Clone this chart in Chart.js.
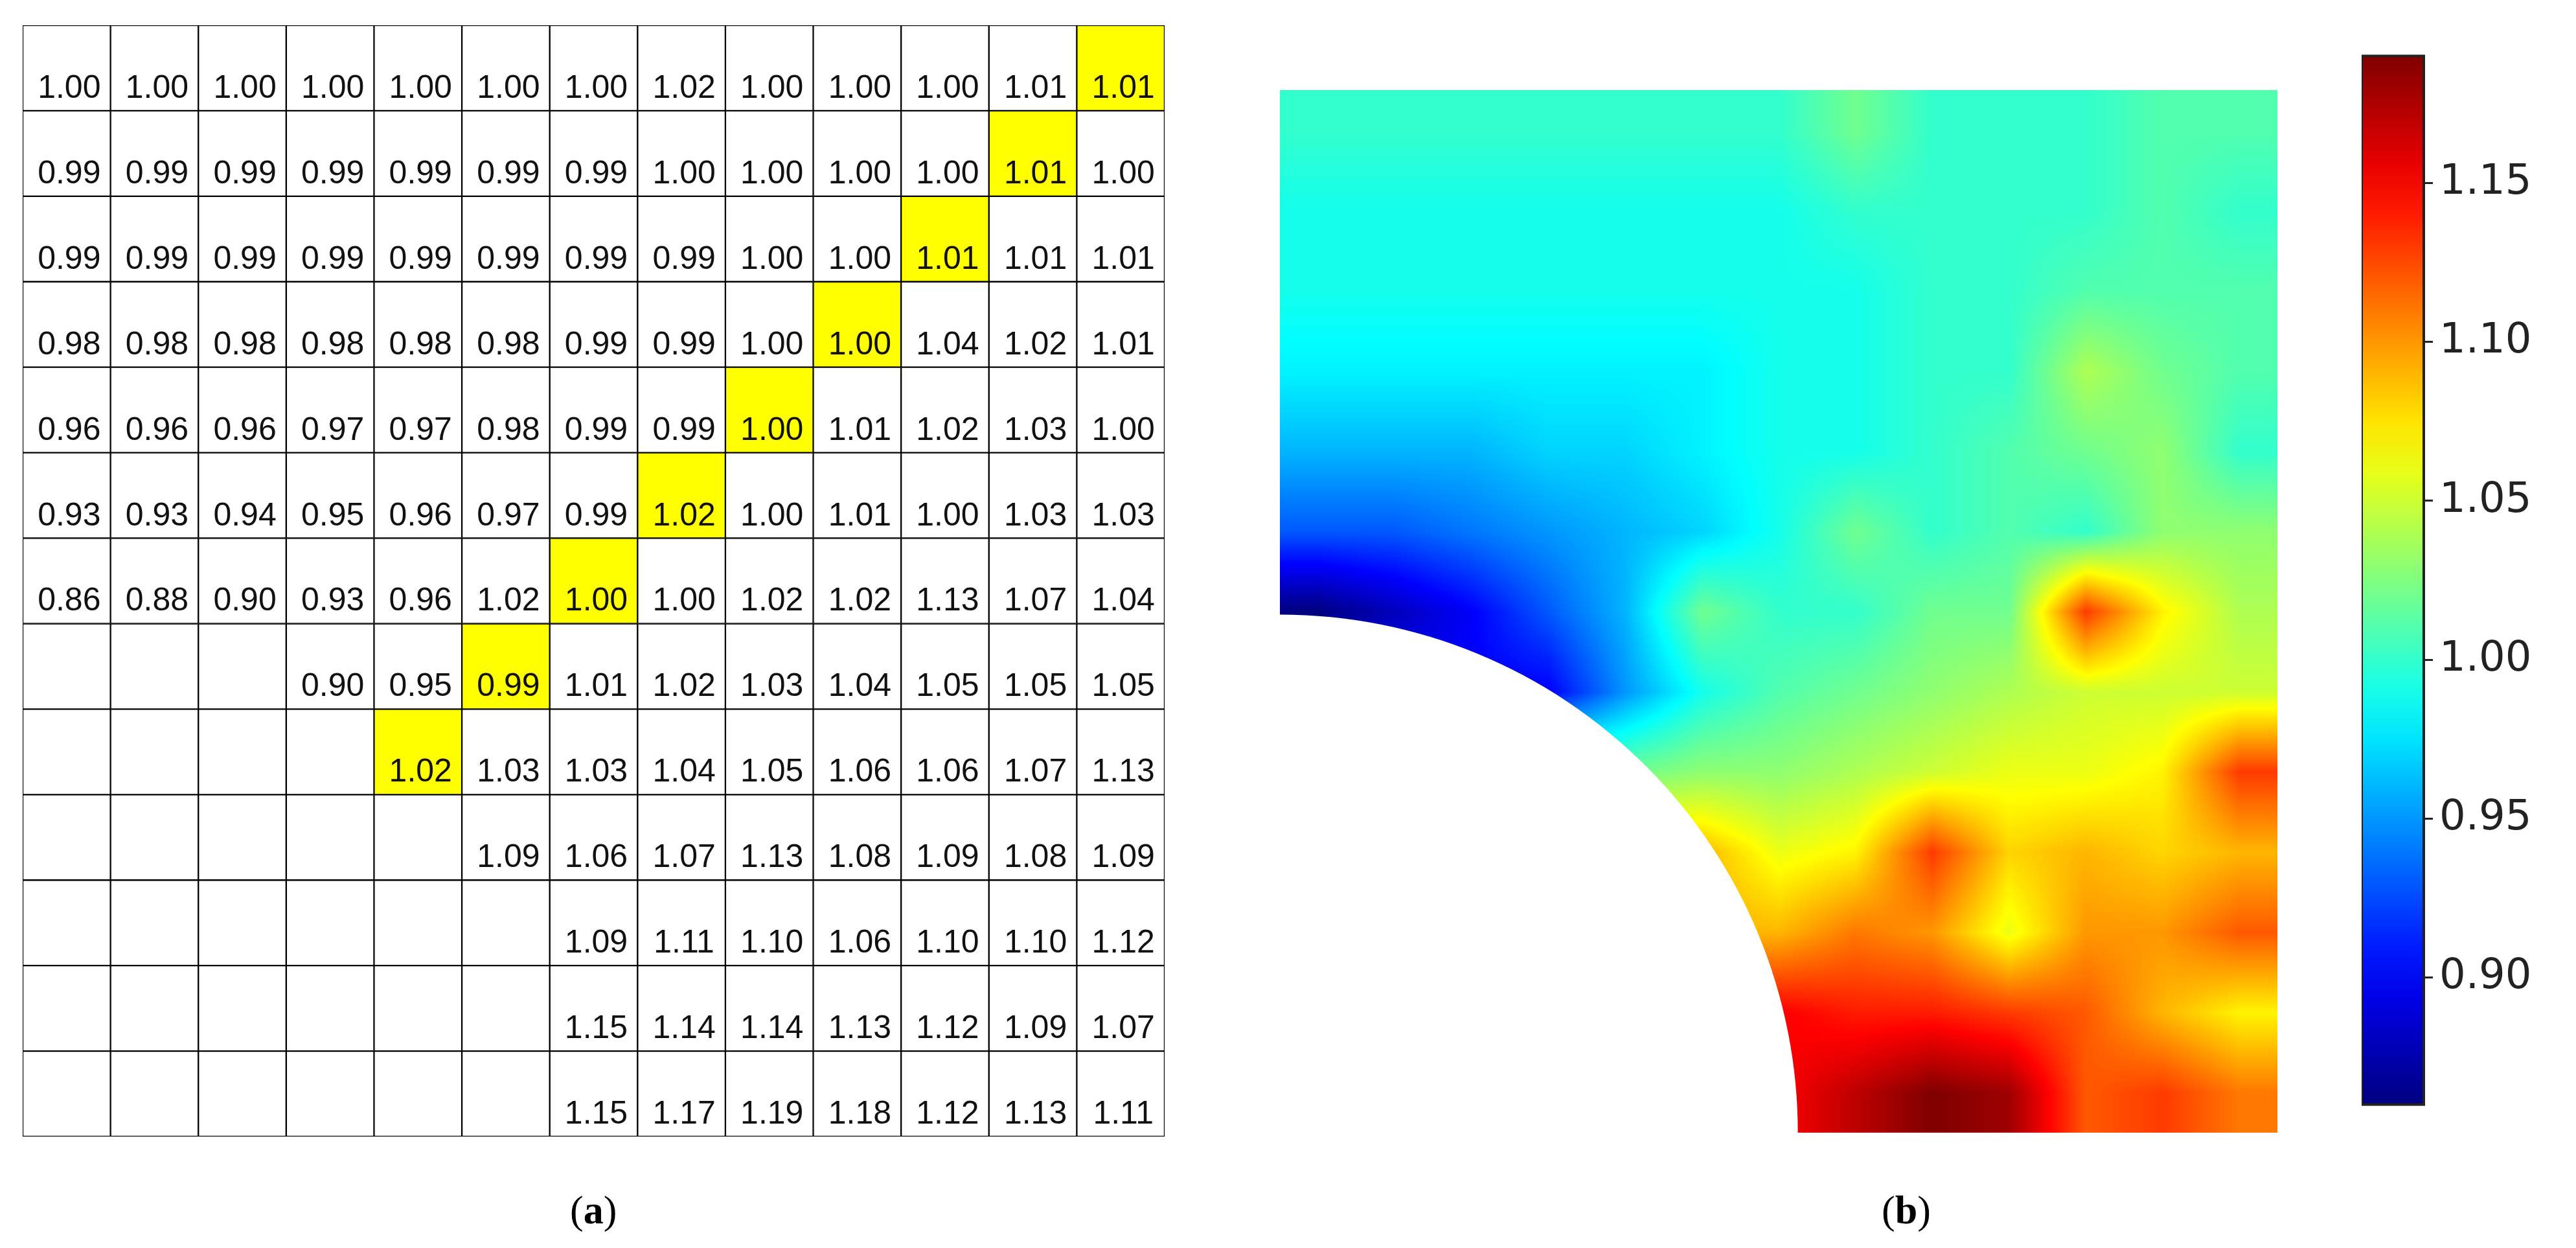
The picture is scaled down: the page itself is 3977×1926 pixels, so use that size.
<!DOCTYPE html>
<html>
<head>
<meta charset="utf-8">
<script src="https://cdn.jsdelivr.net/npm/chart.js@4.4.0/dist/chart.umd.min.js"></script>
<style>
  body { margin: 0; width: 3977px; height: 1926px; background: #fff; position: relative; overflow: hidden; }
  .box { position: absolute; }
  .lbl { position: absolute; font-family: "Liberation Serif", "DejaVu Serif", serif; font-size: 62px; color: #000; }
</style>
</head>
<body>
<div class="box" style="left:20px;top:24px;width:1793px;height:1745px"><canvas id="table"></canvas></div>
<div class="box" style="left:1976px;top:139px;width:1540px;height:1609px"><canvas id="heat"></canvas></div>
<div class="box" style="left:3646px;top:38px;width:331px;height:1715px"><canvas id="bar"></canvas></div>
<div class="lbl" style="left:880px;top:1832px">(<b>a</b>)</div>
<div class="lbl" style="left:2905px;top:1832px">(<b>b</b>)</div>
<script>
// table values, row by row (null = empty cell)
const rows = [
  [1.00, 1.00, 1.00, 1.00, 1.00, 1.00, 1.00, 1.02, 1.00, 1.00, 1.00, 1.01, 1.01],
  [0.99, 0.99, 0.99, 0.99, 0.99, 0.99, 0.99, 1.00, 1.00, 1.00, 1.00, 1.01, 1.00],
  [0.99, 0.99, 0.99, 0.99, 0.99, 0.99, 0.99, 0.99, 1.00, 1.00, 1.01, 1.01, 1.01],
  [0.98, 0.98, 0.98, 0.98, 0.98, 0.98, 0.99, 0.99, 1.00, 1.00, 1.04, 1.02, 1.01],
  [0.96, 0.96, 0.96, 0.97, 0.97, 0.98, 0.99, 0.99, 1.00, 1.01, 1.02, 1.03, 1.00],
  [0.93, 0.93, 0.94, 0.95, 0.96, 0.97, 0.99, 1.02, 1.00, 1.01, 1.00, 1.03, 1.03],
  [0.86, 0.88, 0.90, 0.93, 0.96, 1.02, 1.00, 1.00, 1.02, 1.02, 1.13, 1.07, 1.04],
  [null, null, null, 0.90, 0.95, 0.99, 1.01, 1.02, 1.03, 1.04, 1.05, 1.05, 1.05],
  [null, null, null, null, 1.02, 1.03, 1.03, 1.04, 1.05, 1.06, 1.06, 1.07, 1.13],
  [null, null, null, null, null, 1.09, 1.06, 1.07, 1.13, 1.08, 1.09, 1.08, 1.09],
  [null, null, null, null, null, null, 1.09, 1.11, 1.10, 1.06, 1.10, 1.10, 1.12],
  [null, null, null, null, null, null, 1.15, 1.14, 1.14, 1.13, 1.12, 1.09, 1.07],
  [null, null, null, null, null, null, 1.15, 1.17, 1.19, 1.18, 1.12, 1.13, 1.11]
];
// column index of highlighted cell in each row (-1 = none)
const highlight = [12, 11, 10, 9, 8, 7, 6, 5, 4, -1, -1, -1, -1];
const cols = rows[0].map((v, i) => "c" + i);
const colorMin = 0.86, colorMax = 1.19;
const colorTicks = [0.90, 0.95, 1.00, 1.05, 1.10, 1.15];

function jet(t) {
  t = Math.max(0, Math.min(1, t));
  const r = Math.max(0, Math.min(1, 1.5 - Math.abs(4 * t - 3)));
  const g = Math.max(0, Math.min(1, 1.5 - Math.abs(4 * t - 2)));
  const b = Math.max(0, Math.min(1, 1.5 - Math.abs(4 * t - 1)));
  return [r * 255, g * 255, b * 255];
}

// ---------- (a) table ----------
const tableSets = rows.map((row, r) => ({
  data: row.map(() => [r, r + 1]),
  values: row,
  backgroundColor: row.map((v, c) => (c === highlight[r] ? "#ffff00" : "#ffffff")),
  borderColor: "#000",
  borderWidth: 1.5,
  borderSkipped: false,
  grouped: false,
  barPercentage: 1,
  categoryPercentage: 1
}));

const cellText = {
  id: "cellText",
  afterDatasetsDraw(chart) {
    const ctx = chart.ctx;
    ctx.save();
    ctx.font = "50px 'Liberation Sans', sans-serif";
    ctx.fillStyle = "#111";
    ctx.textAlign = "center";
    ctx.textBaseline = "alphabetic";
    chart.data.datasets.forEach((ds, i) => {
      chart.getDatasetMeta(i).data.forEach((el, c) => {
        const v = ds.values[c];
        if (v === null) return;
        const bottom = Math.max(el.y, el.base);
        ctx.fillText(v.toFixed(2), el.x + 4, bottom - 20);
      });
    });
    ctx.restore();
  }
};

new Chart(document.getElementById("table"), {
  type: "bar",
  data: { labels: cols, datasets: tableSets },
  options: {
    responsive: true, maintainAspectRatio: false, animation: false,
    layout: { padding: 15 },
    plugins: { legend: { display: false }, tooltip: { enabled: false } },
    scales: {
      x: { display: false },
      y: { min: 0, max: rows.length, reverse: true, display: false }
    }
  },
  plugins: [cellText]
});

// ---------- (b) field ----------
const points = [];
rows.forEach((row, r) => row.forEach((v, c) => { if (v !== null) points.push({ x: c + 0.5, y: r + 0.5, v }); }));

function valueAt(r, c) {
  r = Math.max(0, Math.min(rows.length - 1, r));
  c = Math.max(0, Math.min(rows[0].length - 1, c));
  let v = rows[r][c];
  let cc = c;
  while (v === null && cc < rows[0].length - 1) { cc++; v = rows[r][cc]; }
  return v;
}

const fieldPlugin = {
  id: "field",
  beforeDatasetsDraw(chart) {
    const { ctx, chartArea: a, scales } = chart;
    const w = Math.round(a.right - a.left), h = Math.round(a.bottom - a.top);
    const img = ctx.createImageData(w, h);
    for (let py = 0; py < h; py++) {
      const gy = scales.y.getValueForPixel(a.top + py) - 0.5;
      const r0 = Math.floor(gy), fy = gy - r0;
      for (let px = 0; px < w; px++) {
        const gx = scales.x.getValueForPixel(a.left + px) - 0.5;
        const c0 = Math.floor(gx), fx = gx - c0;
        const v = (valueAt(r0, c0) * (1 - fx) + valueAt(r0, c0 + 1) * fx) * (1 - fy) +
                  (valueAt(r0 + 1, c0) * (1 - fx) + valueAt(r0 + 1, c0 + 1) * fx) * fy;
        const col = jet((v - colorMin) / (colorMax - colorMin));
        const k = (py * w + px) * 4;
        img.data[k] = col[0]; img.data[k + 1] = col[1]; img.data[k + 2] = col[2]; img.data[k + 3] = 255;
      }
    }
    const off = document.createElement("canvas");
    off.width = w; off.height = h;
    off.getContext("2d").putImageData(img, 0, 0);
    ctx.save();
    ctx.drawImage(off, a.left, a.top, w, h);
    // hole at bottom-left corner
    const cx = scales.x.getPixelForValue(0), cy = scales.y.getPixelForValue(rows.length);
    const rad = scales.x.getPixelForValue(6.75) - cx;
    ctx.fillStyle = "#fff";
    ctx.beginPath();
    ctx.moveTo(cx, cy);
    ctx.arc(cx, cy, rad, -Math.PI / 2, 0);
    ctx.closePath();
    ctx.fill();
    ctx.restore();
  }
};

new Chart(document.getElementById("heat"), {
  type: "scatter",
  data: { datasets: [{ data: points, pointRadius: 0 }] },
  options: {
    responsive: true, maintainAspectRatio: false, animation: false,
    plugins: { legend: { display: false }, tooltip: { enabled: false } },
    scales: {
      x: { min: 0, max: rows[0].length, display: false },
      y: { min: 0, max: rows.length, reverse: true, display: false }
    }
  },
  plugins: [fieldPlugin]
});

// ---------- colour bar ----------
const barFrame = {
  id: "barFrame",
  afterDraw(chart) {
    const { ctx, chartArea: a } = chart;
    ctx.save();
    ctx.strokeStyle = "#222";
    ctx.lineWidth = 4;
    ctx.strokeRect(a.left, a.top, a.right - a.left, a.bottom - a.top);
    ctx.restore();
  }
};

new Chart(document.getElementById("bar"), {
  type: "bar",
  data: {
    labels: ["cb"],
    datasets: [{
      data: [[colorMin, colorMax]],
      barPercentage: 1, categoryPercentage: 1,
      backgroundColor(context) {
        const a = context.chart.chartArea;
        if (!a) return "#888";
        const g = context.chart.ctx.createLinearGradient(0, a.bottom, 0, a.top);
        for (let i = 0; i <= 20; i++) {
          const c = jet(i / 20);
          g.addColorStop(i / 20, `rgb(${c[0]},${c[1]},${c[2]})`);
        }
        return g;
      }
    }]
  },
  options: {
    responsive: true, maintainAspectRatio: false, animation: false,
    plugins: { legend: { display: false }, tooltip: { enabled: false } },
    scales: {
      x: { display: false },
      y: {
        position: "right", min: colorMin, max: colorMax,
        afterBuildTicks(axis) { axis.ticks = colorTicks.map(v => ({ value: v })); },
        border: { display: false },
        grid: { drawOnChartArea: false, tickLength: 14, tickWidth: 3, color: "#222" },
        ticks: { font: { size: 64, family: "'DejaVu Sans', sans-serif" }, color: "#222", padding: 10,
                 callback: v => v.toFixed(2) },
        afterFit(axis) { axis.width = 235; }
      }
    }
  },
  plugins: [barFrame]
});
</script>
</body>
</html>
